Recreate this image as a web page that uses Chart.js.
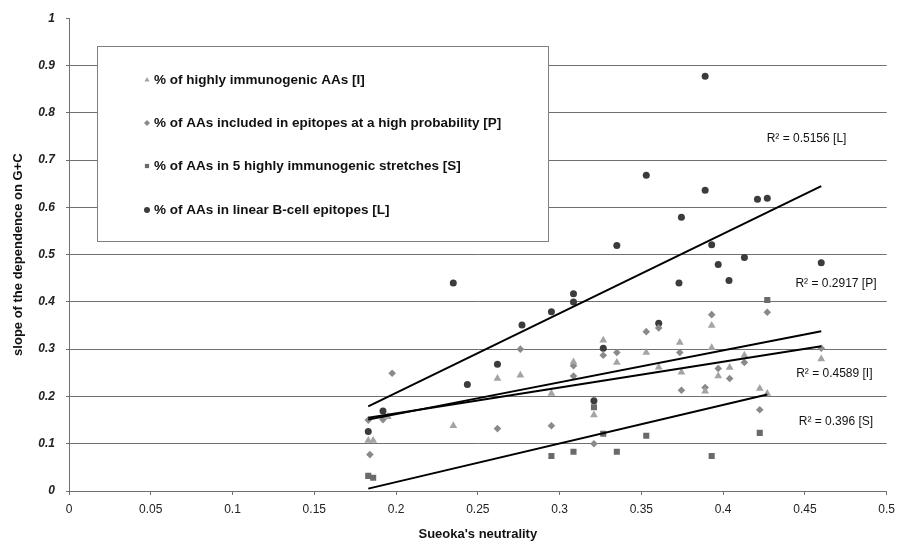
<!DOCTYPE html>
<html>
<head>
<meta charset="utf-8">
<script src="https://cdn.jsdelivr.net/npm/chart.js@4/dist/chart.umd.min.js"></script>
<style>
  html, body { margin: 0; padding: 0; background: #fff; }
  #wrap { width: 902px; height: 542px; position: relative; }
</style>
</head>
<body>
<div id="wrap"><canvas id="chart" width="902" height="542"></canvas></div>
<script>
// series
const seriesNames = [
    '% of highly immunogenic AAs [I]',
    '% of AAs included in epitopes at a high probability [P]',
    '% of AAs in 5 highly immunogenic stretches [S]',
    '% of AAs in linear B-cell epitopes [L]'
];

const immunoX = [0.183, 0.186, 0.195, 0.235, 0.262, 0.276, 0.295, 0.3085, 0.321, 0.3267, 0.335, 0.353, 0.3606, 0.3735, 0.3745, 0.389, 0.393, 0.393, 0.397, 0.404, 0.413, 0.4224, 0.427, 0.46];
const immunoY = [0.107, 0.107, 0.157, 0.138, 0.238, 0.245, 0.206, 0.273, 0.161, 0.319, 0.272, 0.293, 0.262, 0.314, 0.251, 0.211, 0.350, 0.303, 0.243, 0.261, 0.287, 0.217, 0.206, 0.279];

const probX = [0.183, 0.184, 0.192, 0.1976, 0.262, 0.276, 0.295, 0.3085, 0.3085, 0.321, 0.3267, 0.335, 0.353, 0.3606, 0.3735, 0.3745, 0.389, 0.393, 0.397, 0.404, 0.413, 0.4224, 0.427, 0.46];
const probY = [0.150, 0.077, 0.151, 0.249, 0.132, 0.300, 0.138, 0.265, 0.243, 0.100, 0.287, 0.293, 0.337, 0.345, 0.293, 0.213, 0.219, 0.373, 0.259, 0.238, 0.272, 0.172, 0.378, 0.302];

const stretchX = [0.183, 0.186, 0.295, 0.3085, 0.321, 0.3267, 0.335, 0.353, 0.393, 0.4224, 0.427];
const stretchY = [0.032, 0.028, 0.074, 0.083, 0.177, 0.121, 0.083, 0.117, 0.074, 0.123, 0.404];

const linearX = [0.183, 0.192, 0.235, 0.2436, 0.262, 0.277, 0.295, 0.3085, 0.3085, 0.321, 0.3267, 0.335, 0.353, 0.3606, 0.373, 0.3745, 0.389, 0.389, 0.393, 0.397, 0.4036, 0.413, 0.421, 0.427, 0.46];
const linearY = [0.126, 0.169, 0.440, 0.225, 0.268, 0.351, 0.379, 0.400, 0.417, 0.191, 0.302, 0.519, 0.668, 0.355, 0.440, 0.579, 0.636, 0.877, 0.521, 0.479, 0.445, 0.494, 0.617, 0.619, 0.483];

// trend lines (end points)
const trendIX = [0.183, 0.46], trendIY = [0.155, 0.306];
const trendPX = [0.183, 0.46], trendPY = [0.151, 0.338];
const trendSX = [0.183, 0.427], trendSY = [0.005, 0.204];
const trendLX = [0.183, 0.46], trendLY = [0.179, 0.645];

// R² labels and where they sit (data units)
const r2Texts = ['R\u00B2 = 0.5156 [L]', 'R\u00B2 = 0.2917 [P]', 'R\u00B2 = 0.4589 [I]', 'R\u00B2 = 0.396 [S]'];
const r2X = [0.451, 0.469, 0.468, 0.469];
const r2Y = [0.745, 0.438, 0.249, 0.147];

const xTickLabels = ['0', '0.05', '0.1', '0.15', '0.2', '0.25', '0.3', '0.35', '0.4', '0.45', '0.5'];
const yTickLabels = ['0', '0.1', '0.2', '0.3', '0.4', '0.5', '0.6', '0.7', '0.8', '0.9', '1'];

const styles = ['triangle', 'rectRot', 'rect', 'circle'];
const colors = ['#a4a4a4', '#8a8a8a', '#6a6a6a', '#3c3c3c'];
const radii = [4.5, 3.8, 4.3, 3.5];

function toPoints(xs, ys) {
    return xs.map((x, i) => ({ x: x, y: ys[i] }));
}

function trend(xs, ys) {
    return {
        data: toPoints(xs, ys),
        showLine: true,
        borderColor: '#000',
        borderWidth: 2,
        pointRadius: 0,
        fill: false
    };
}

function scatter(i, xs, ys) {
    return {
        label: seriesNames[i],
        data: toPoints(xs, ys),
        pointStyle: styles[i],
        pointRadius: radii[i],
        backgroundColor: colors[i],
        borderColor: colors[i],
        borderWidth: 0,
        showLine: false
    };
}

// boxed legend + R² notes
const notesPlugin = {
    id: 'notes',
    beforeDatasetsDraw(chart) {
        const ctx = chart.ctx;
        ctx.save();
        ctx.fillStyle = '#fff';
        ctx.fillRect(97, 46, 451, 195);
        ctx.strokeStyle = '#808080';
        ctx.lineWidth = 1;
        ctx.strokeRect(97.5, 46.5, 451, 195);
        const rows = [80, 123, 166, 210];
        ctx.font = 'bold 13.5px "Liberation Sans", Arial, sans-serif';
        ctx.textBaseline = 'middle';
        seriesNames.forEach((name, i) => {
            ctx.fillStyle = colors[i];
            ctx.strokeStyle = colors[i];
            Chart.helpers.drawPoint(ctx, { pointStyle: styles[i], radius: 3, rotation: 0, borderWidth: 0 }, 147, rows[i]);
            ctx.fillStyle = '#111';
            ctx.fillText(name, 154, rows[i]);
        });
        ctx.restore();
    },
    afterDraw(chart) {
        const ctx = chart.ctx;
        const xs = chart.scales.x, ys = chart.scales.y;
        ctx.save();
        ctx.font = '12px "Liberation Sans", Arial, sans-serif';
        ctx.fillStyle = '#111';
        ctx.textAlign = 'center';
        ctx.textBaseline = 'middle';
        r2Texts.forEach((t, i) => {
            ctx.fillText(t, xs.getPixelForValue(r2X[i]), ys.getPixelForValue(r2Y[i]));
        });
        ctx.restore();
    }
};

const ctx = document.getElementById('chart').getContext('2d');
new Chart(ctx, {
    type: 'scatter',
    data: {
        datasets: [
            trend(trendLX, trendLY),
            trend(trendPX, trendPY),
            trend(trendIX, trendIY),
            trend(trendSX, trendSY),
            scatter(0, immunoX, immunoY),
            scatter(1, probX, probY),
            scatter(2, stretchX, stretchY),
            scatter(3, linearX, linearY)
        ]
    },
    options: {
        responsive: false,
        animation: false,
        layout: { padding: { top: 16, right: 7, left: 0, bottom: 0 } },
        plugins: {
            legend: { display: false },
            tooltip: { enabled: false }
        },
        scales: {
            x: {
                type: 'linear',
                min: 0,
                max: 0.5,
                afterFit: s => { s.height = 51; },
                afterBuildTicks: s => {
                    s.ticks = xTickLabels.map(v => ({ value: parseFloat(v) }));
                },
                grid: { drawOnChartArea: false, drawTicks: true, tickLength: 4, tickColor: '#707070' },
                border: { display: true, color: '#707070', width: 1 },
                ticks: {
                    padding: 7,
                    color: '#222',
                    font: { family: '"Liberation Sans", Arial, sans-serif', size: 12 },
                    callback: (v, i) => xTickLabels[i]
                },
                title: {
                    display: true,
                    text: "Sueoka's neutrality",
                    color: '#111',
                    padding: { top: 0, bottom: 0 },
                    font: { family: '"Liberation Sans", Arial, sans-serif', size: 13, weight: 'bold' }
                }
            },
            y: {
                type: 'linear',
                min: 0,
                max: 1,
                afterFit: s => { s.width = 69; },
                afterBuildTicks: s => {
                    s.ticks = yTickLabels.map(v => ({ value: parseFloat(v) }));
                },
                grid: {
                    color: c => (c.tick && c.tick.value === 1) ? 'rgba(0,0,0,0)' : '#707070',
                    tickColor: '#707070',
                    tickLength: 3,
                    lineWidth: 1
                },
                border: { display: true, color: '#707070', width: 1 },
                ticks: {
                    padding: 11,
                    color: '#222',
                    font: { family: '"Liberation Sans", Arial, sans-serif', size: 12, weight: 'bold', style: 'italic' },
                    callback: (v, i) => yTickLabels[i]
                },
                title: {
                    display: true,
                    text: 'slope of the dependence on G+C',
                    color: '#111',
                    padding: { top: 11, bottom: 0 },
                    font: { family: '"Liberation Sans", Arial, sans-serif', size: 13, weight: 'bold' }
                }
            }
        }
    },
    plugins: [notesPlugin]
});
</script>
</body>
</html>
